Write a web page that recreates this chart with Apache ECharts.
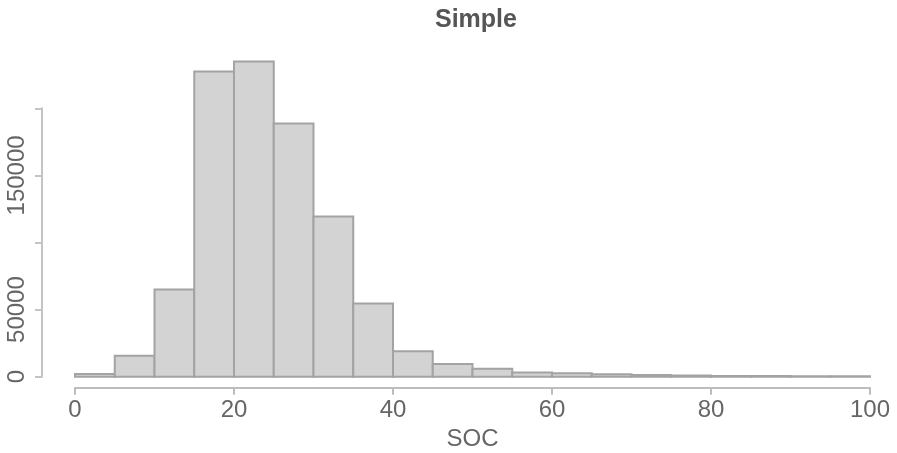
<!DOCTYPE html>
<html><head><meta charset="utf-8">
<script src="https://cdn.jsdelivr.net/npm/echarts@6/dist/echarts.min.js"></script>
<style>html,body{margin:0;padding:0;background:#fff}#c{width:897px;height:453px}</style>
</head><body><div id="c"></div>
<script>
const binStarts = [0,5,10,15,20,25,30,35,40,45,50,55,60,65,70,75,80,85,90,95];
const binWidth = 5;
const counts = [2000,15700,65000,227400,234800,188600,119400,54500,18900,9500,6000,3200,2500,1800,1200,900,600,500,400,300];
const xTicks = [0,20,40,60,80,100];
const yTickLabels = {0:'0',50000:'50000',150000:'150000'};

const data = binStarts.map((s,i)=>[s, s+binWidth, counts[i]]);
const chart = echarts.init(document.getElementById('c'));
const txt = {color:'#666', fontFamily:'Liberation Sans, Arial, sans-serif', fontSize:24};
chart.setOption({
  animation:false,
  title:{text:'Simple', left:430, top:3, textStyle:{color:'#555', fontFamily:'Liberation Sans, Arial, sans-serif', fontSize:25, fontWeight:'bold'}},
  grid:{left:75, right:27, top:108.3, bottom:76.3, containLabel:false, outerBoundsMode:'none'},
  xAxis:{type:'value', min:0, max:100, interval:20, offset:11,
    name:'SOC', nameLocation:'middle', nameGap:40, nameTextStyle:txt,
    axisLine:{show:true, onZero:false, lineStyle:{color:'#bdbdbd', width:2}},
    axisTick:{show:true, length:7, lineStyle:{color:'#bdbdbd', width:2}},
    axisLabel:Object.assign({margin:11, formatter:v=>xTicks.indexOf(v)>=0?String(v):''}, txt),
    splitLine:{show:false}},
  yAxis:{type:'value', min:0, max:200000, interval:50000, offset:33,
    axisLine:{show:true, onZero:false, lineStyle:{color:'#c4c4c4', width:2}},
    axisTick:{show:true, length:7, lineStyle:{color:'#c4c4c4', width:2}},
    axisLabel:Object.assign({margin:13, rotate:90, formatter:v=>yTickLabels[v]!==undefined?yTickLabels[v]:''}, txt),
    splitLine:{show:false}},
  series:[{type:'custom', clip:false, data:data,
    encode:{x:[0,1], y:2},
    renderItem:(params, api)=>{
      const p0 = api.coord([api.value(0), 0]);
      const p1 = api.coord([api.value(1), api.value(2)]);
      return {type:'rect', shape:{x:p0[0], y:p1[1], width:p1[0]-p0[0], height:p0[1]-p1[1]},
        style:{fill:'#d3d3d3', stroke:'#a3a3a3', lineWidth:2}};
    }}]
});
</script></body></html>
